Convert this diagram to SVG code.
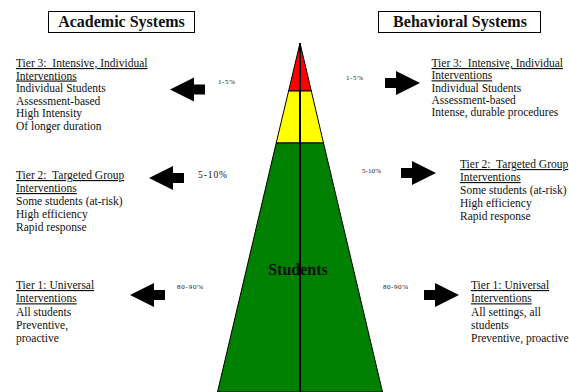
<svg xmlns="http://www.w3.org/2000/svg" width="569" height="392" viewBox="0 0 569 392">
<defs>
<style>
text{font-family:"Liberation Serif","Times New Roman",serif;fill:#111;white-space:pre}
.title{font-size:16px;font-weight:bold}
.t{font-size:11.5px}
.u{text-decoration:underline}
.pct{font-size:7px}
.box{fill:#fff;stroke:#000;stroke-width:1}
.arrow{fill:#000}
.tier{stroke:#000;stroke-width:1}
</style>
<path id="arrowL" d="M0,0 L24,-12 L24,-5 L35,-5 L35,5 L24,5 L24,12 Z"/>
<path id="arrowR" d="M0,-5 L11,-5 L11,-12 L35,0 L11,12 L11,5 L0,5 Z"/>
</defs>
<rect width="569" height="392" fill="#fff"/>

<g id="academic-title">
<rect class="box" x="48.5" y="11.5" width="146" height="21"/>
<text class="title" x="121.5" y="27" text-anchor="middle">Academic Systems</text>
</g>
<g id="behavioral-title">
<rect class="box" x="378.5" y="11.5" width="162" height="21"/>
<text class="title" x="460" y="27" text-anchor="middle">Behavioral Systems</text>
</g>

<g id="pyramid">
<polygon class="tier" fill="#FF0000" points="300,43 288.6,91 311.3,91"/>
<polygon class="tier" fill="#FFFF00" points="288.6,91 311.3,91 323.5,143 276.2,143"/>
<polygon class="tier" fill="#008000" points="276.2,143 323.5,143 382.5,392 217.5,392"/>
<line x1="300" y1="43" x2="300" y2="392" stroke="#000" stroke-width="2"/>
<text class="title" x="298" y="275" text-anchor="middle">Students</text>
</g>

<g id="connectors">
<use href="#arrowL" class="arrow" x="170" y="89.5"/>
<use href="#arrowL" class="arrow" x="149" y="178"/>
<use href="#arrowL" class="arrow" x="130" y="295"/>
<use href="#arrowR" class="arrow" x="385" y="83"/>
<use href="#arrowR" class="arrow" x="401" y="173"/>
<use href="#arrowR" class="arrow" x="424" y="295"/>
<text class="pct" x="218" y="84" textLength="17">1-5%</text>
<text class="pct" x="346" y="80" textLength="17">1-5%</text>
<text class="pct" x="198" y="178" style="font-size:9.5px" textLength="29">5-10%</text>
<text class="pct" x="362" y="173" textLength="19">5-10%</text>
<text class="pct" x="177" y="289" textLength="26">80-90%</text>
<text class="pct" x="383" y="289" textLength="25">80-90%</text>
</g>

<g id="academic-tier3">
<text class="t" x="16" y="67"><tspan class="u">Tier 3:  Intensive, Individual</tspan><tspan class="u" x="16" dy="12.5">Interventions</tspan><tspan x="16" dy="12.5">Individual Students</tspan><tspan x="16" dy="12.5">Assessment-based</tspan><tspan x="16" dy="12.5">High Intensity</tspan><tspan x="16" dy="12.5">Of longer duration</tspan></text>
</g>
<g id="academic-tier2">
<text class="t" x="16" y="179"><tspan class="u">Tier 2:  Targeted Group</tspan><tspan class="u" x="16" dy="13">Interventions</tspan><tspan x="16" dy="13">Some students (at-risk)</tspan><tspan x="16" dy="13">High efficiency</tspan><tspan x="16" dy="13">Rapid response</tspan></text>
</g>
<g id="academic-tier1">
<text class="t" x="16" y="289"><tspan class="u">Tier 1: Universal</tspan><tspan class="u" x="16" dy="13.3">Interventions</tspan><tspan x="16" dy="13.3">All students</tspan><tspan x="16" dy="13.3">Preventive,</tspan><tspan x="16" dy="13.3">proactive</tspan></text>
</g>

<g id="behavioral-tier3">
<text class="t" x="431.5" y="67"><tspan class="u">Tier 3:  Intensive, Individual</tspan><tspan class="u" x="431.5" dy="12.3">Interventions</tspan><tspan x="431.5" dy="12.3">Individual Students</tspan><tspan x="431.5" dy="12.3">Assessment-based</tspan><tspan x="431.5" dy="12.3">Intense, durable procedures</tspan></text>
</g>
<g id="behavioral-tier2">
<text class="t" x="460" y="168"><tspan class="u">Tier 2:  Targeted Group</tspan><tspan class="u" x="460" dy="13">Interventions</tspan><tspan x="460" dy="13">Some students (at-risk)</tspan><tspan x="460" dy="13">High efficiency</tspan><tspan x="460" dy="13">Rapid response</tspan></text>
</g>
<g id="behavioral-tier1">
<text class="t" x="471" y="289"><tspan class="u">Tier 1: Universal</tspan><tspan class="u" x="471" dy="13.3">Interventions</tspan><tspan x="471" dy="13.3">All settings, all</tspan><tspan x="471" dy="13.3">students</tspan><tspan x="471" dy="13.3">Preventive, proactive</tspan></text>
</g>
</svg>
